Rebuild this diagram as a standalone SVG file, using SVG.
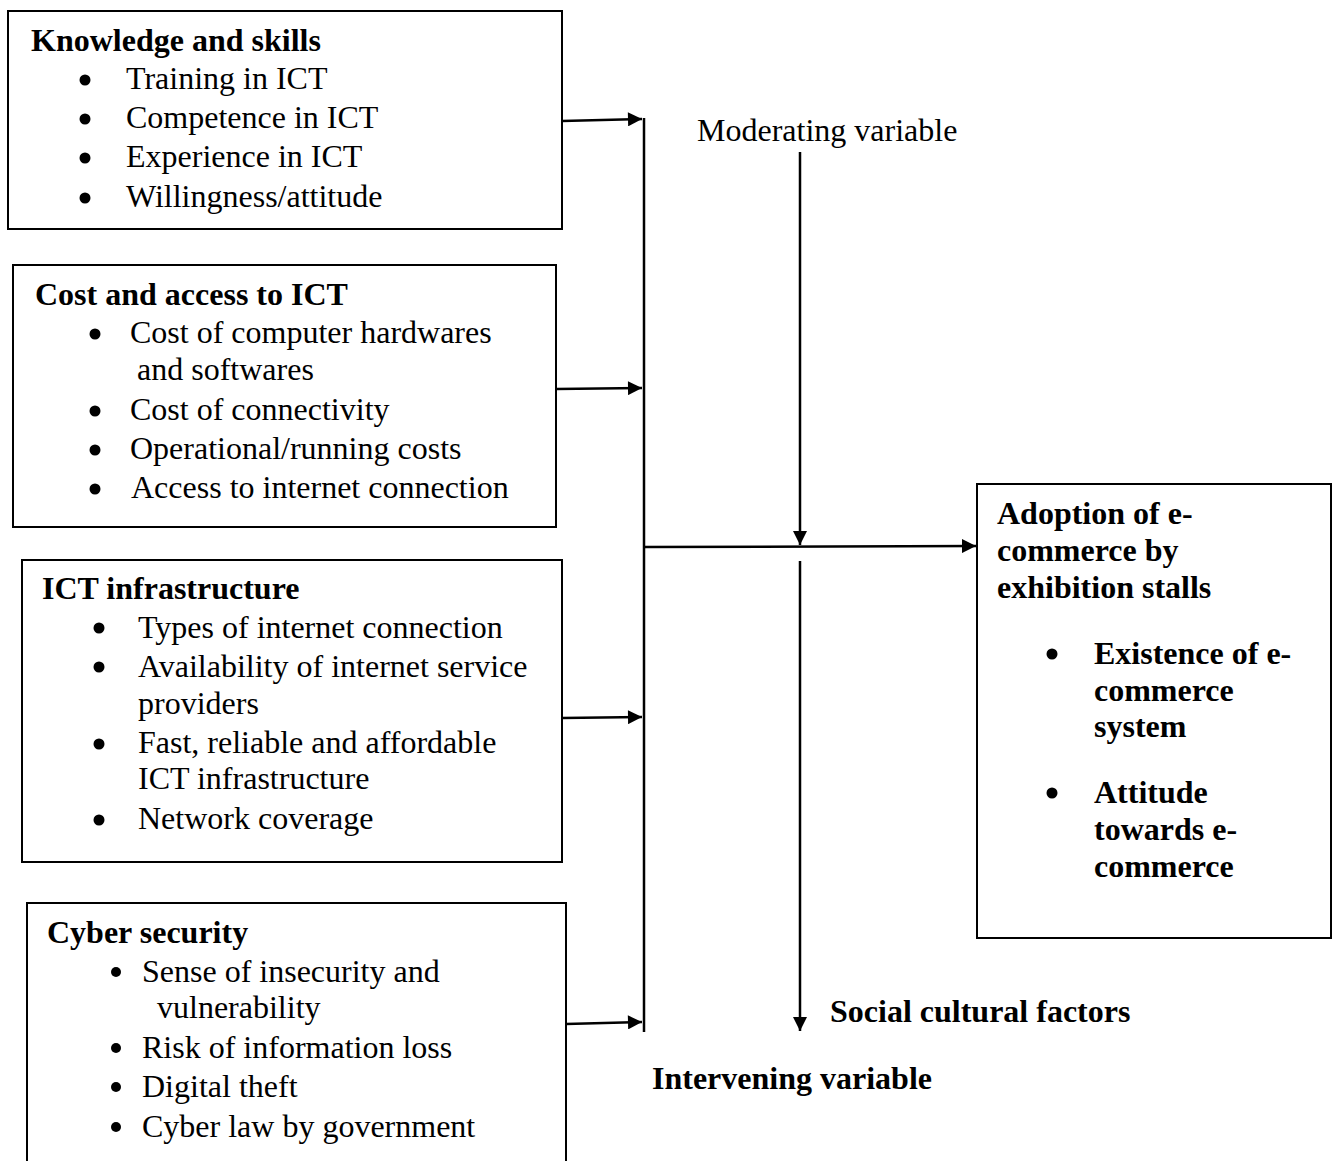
<svg xmlns="http://www.w3.org/2000/svg" width="1337" height="1161" viewBox="0 0 1337 1161">
<style>
.box{fill:#fff;stroke:#000;stroke-width:2}
text{font-family:"Liberation Serif","Times New Roman",serif;font-size:32px;fill:#000}
.b{font-weight:bold}
.ln{stroke:#000;stroke-width:2.5;fill:none}
.dot{fill:#000}
</style>
<defs>
<marker id="ah" viewBox="0 0 10 10" refX="10" refY="5" markerWidth="16" markerHeight="14" markerUnits="userSpaceOnUse" orient="auto">
<path d="M0,0 L10,5 L0,10 z" fill="#000"/>
</marker>
</defs>
<rect width="1337" height="1161" fill="#fff"/>
<g id="knowledge">
<rect class="box" x="8" y="11" width="554" height="218"/>
<text class="b" x="31" y="51">Knowledge and skills</text>
<circle class="dot" cx="85" cy="80" r="5.5"/><text x="126" y="89">Training in ICT</text>
<circle class="dot" cx="85" cy="119" r="5.5"/><text x="126" y="128">Competence in ICT</text>
<circle class="dot" cx="85" cy="158" r="5.5"/><text x="126" y="167">Experience in ICT</text>
<circle class="dot" cx="85" cy="198" r="5.5"/><text x="126" y="207">Willingness/attitude</text>
</g>
<g id="cost">
<rect class="box" x="13" y="265" width="543" height="262"/>
<text class="b" x="35" y="305">Cost and access to ICT</text>
<circle class="dot" cx="95" cy="334" r="5.5"/><text x="130" y="343">Cost of computer hardwares</text>
<text x="137" y="380">and softwares</text>
<circle class="dot" cx="95" cy="411" r="5.5"/><text x="130" y="420">Cost of connectivity</text>
<circle class="dot" cx="95" cy="450" r="5.5"/><text x="130" y="459">Operational/running costs</text>
<circle class="dot" cx="95" cy="489" r="5.5"/><text x="131" y="498">Access to internet connection</text>
</g>
<g id="infrastructure">
<rect class="box" x="22" y="560" width="540" height="302"/>
<text class="b" x="42" y="599">ICT infrastructure</text>
<circle class="dot" cx="99" cy="628" r="5.5"/><text x="138" y="638">Types of internet connection</text>
<circle class="dot" cx="99" cy="667" r="5.5"/><text x="138" y="677">Availability of internet service</text>
<text x="138" y="714">providers</text>
<circle class="dot" cx="99" cy="744" r="5.5"/><text x="138" y="753">Fast, reliable and affordable</text>
<text x="138" y="789">ICT infrastructure</text>
<circle class="dot" cx="99" cy="820" r="5.5"/><text x="138" y="829">Network coverage</text>
</g>
<g id="cyber">
<path class="box" d="M27,1170 V903 H566 V1170"/>
<text class="b" x="47" y="943">Cyber security</text>
<circle class="dot" cx="116" cy="972" r="5"/><text x="142" y="982">Sense of insecurity and</text>
<text x="157" y="1018">vulnerability</text>
<circle class="dot" cx="116" cy="1048" r="5"/><text x="142" y="1058">Risk of information loss</text>
<circle class="dot" cx="116" cy="1087" r="5"/><text x="142" y="1097">Digital theft</text>
<circle class="dot" cx="116" cy="1127" r="5"/><text x="142" y="1137">Cyber law by government</text>
</g>
<g id="adoption">
<rect class="box" x="977" y="484" width="354" height="454"/>
<text class="b" x="997" y="524">Adoption of e-</text>
<text class="b" x="997" y="561">commerce by</text>
<text class="b" x="997" y="598">exhibition stalls</text>
<circle class="dot" cx="1052" cy="654" r="5.5"/><text class="b" x="1094" y="664">Existence of e-</text>
<text class="b" x="1094" y="701">commerce</text>
<text class="b" x="1094" y="737">system</text>
<circle class="dot" cx="1052" cy="793" r="5.5"/><text class="b" x="1094" y="803">Attitude</text>
<text class="b" x="1094" y="840">towards e-</text>
<text class="b" x="1094" y="877">commerce</text>
</g>
<g id="labels">
<text x="697" y="141">Moderating variable</text>
<text class="b" x="830" y="1022">Social cultural factors</text>
<text class="b" x="652" y="1089">Intervening variable</text>
</g>
<g id="connectors">
<line class="ln" x1="644" y1="118" x2="644" y2="1032"/>
<line class="ln" x1="562" y1="121" x2="642" y2="119" marker-end="url(#ah)"/>
<line class="ln" x1="556" y1="389" x2="642" y2="388" marker-end="url(#ah)"/>
<line class="ln" x1="562" y1="718" x2="642" y2="717" marker-end="url(#ah)"/>
<line class="ln" x1="566" y1="1024" x2="642" y2="1022" marker-end="url(#ah)"/>
<line class="ln" x1="644" y1="547" x2="976" y2="546" marker-end="url(#ah)"/>
<line class="ln" x1="800" y1="152" x2="800" y2="545" marker-end="url(#ah)"/>
<line class="ln" x1="800" y1="561" x2="800" y2="1031" marker-end="url(#ah)"/>
</g>
</svg>
